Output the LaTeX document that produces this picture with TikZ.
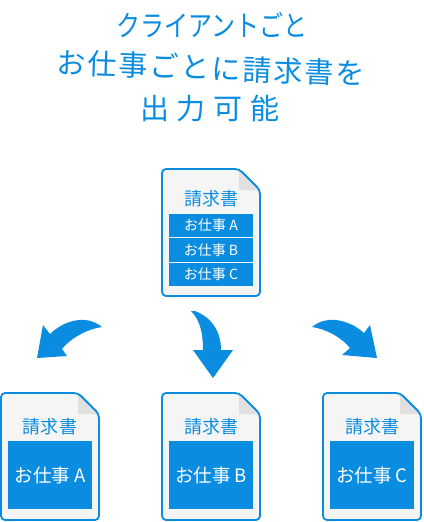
\documentclass[tikz,border=0pt]{standalone}
\usepackage{fontspec}
\setmainfont{Noto Sans CJK JP}
\definecolor{ablue}{RGB}{10,140,224}
\definecolor{pagegray}{RGB}{245,245,245}
\definecolor{foldgray}{RGB}{224,224,224}
\newcommand\gp{\hspace{2pt}}
\newcommand\gq{\hspace{8pt}}
\newcommand\DocPage[2]{%
  \begin{scope}[shift={(#1,#2)}]
    \fill[pagegray, rounded corners=4pt] (0,0) -- (77,0) -- (98,21) -- (98,127) -- (0,127) -- cycle;
    \fill[foldgray] (77,0) -- (77,21) -- (98,21) -- cycle;
    \draw[docline, rounded corners=4pt] (0,0) -- (77,0) -- (98,21) -- (98,127) -- (0,127) -- cycle;
  \end{scope}}
\tikzset{
  docline/.style={draw=ablue, line width=1.8pt, line join=round},
  doctitle/.style={text=ablue, inner sep=0pt, font=\fontsize{18}{20}\selectfont},
  barbox/.style={fill=ablue, text=white, inner sep=0pt, minimum width=84pt, minimum height=23.6pt, font=\fontsize{14}{16}\selectfont},
  bigbox/.style={fill=ablue, text=white, inner sep=0pt, minimum width=84pt, minimum height=68pt, font=\fontsize{18.5}{20}\selectfont},
  headline/.style={text=ablue, inner sep=0pt},
  bigarrow/.style={fill=ablue}
}
\begin{document}
\begin{tikzpicture}[x=1pt,y=-1pt]
\useasboundingbox (0,0) rectangle (423,522);
% headline
\node[headline, font=\fontsize{24}{26}\selectfont] (h1) at (212,25) {\scalebox{1}[1.2]{クライアントごと}};
\node[headline, font=\fontsize{29}{31}\selectfont, rotate=-2] (h2) at (211,68) {お\gp 仕\gp 事\gp ご\gp と\gp に\gp 請\gp 求\gp 書\gp を};
\node[headline, font=\fontsize{29}{31}\selectfont] (h3) at (210,109) {出\gq 力\gq 可\gq 能};
% top document
\DocPage{162}{169}
\node[doctitle] (tTitle) at (211,199) {請求書};
\node[barbox] (tBarA) at (211,56.5+169) {お仕事 A};
\node[barbox] (tBarB) at (211,81+169) {お仕事 B};
\node[barbox] (tBarC) at (211,105.5+169) {お仕事 C};
% bottom documents
\DocPage{1}{393}
\DocPage{162}{393}
\DocPage{323}{393}
\node[doctitle] (aTitle) at (50,427) {請求書};
\node[doctitle] (bTitle) at (211,427) {請求書};
\node[doctitle] (cTitle) at (372,427) {請求書};
\node[bigbox] (aBox) at (50,475) {お仕事 A};
\node[bigbox] (bBox) at (211,475) {お仕事 B};
\node[bigbox] (cBox) at (372,475) {お仕事 C};
% arrows
\fill[bigarrow] (37,358) -- (43,325) -- (50,334) .. controls (62,322) and (85,313) .. (102,327) .. controls (88,329) and (72,337) .. (62,349) -- (67,356) -- cycle;
\fill[bigarrow] (195,311) .. controls (213,318) and (221,333) .. (221,350) -- (233,350) -- (213,378) -- (193,350) -- (203,350) .. controls (203,333) and (200,320) .. (191,311) -- cycle;
\fill[bigarrow] (312,327) .. controls (329,313) and (352,322) .. (364,333) -- (370,325) -- (377,358) -- (342,355) -- (350,348) .. controls (341,337) and (326,329) .. (312,327) -- cycle;
\end{tikzpicture}
\end{document}
